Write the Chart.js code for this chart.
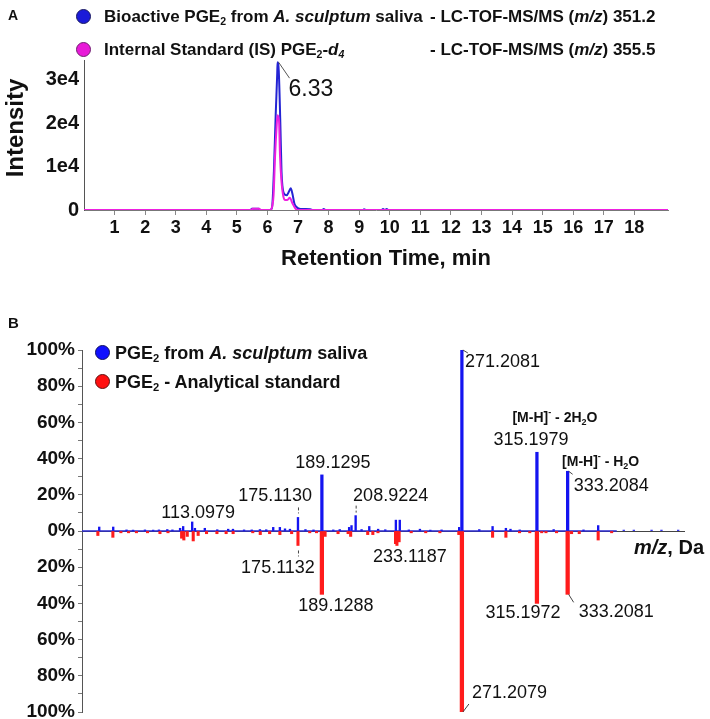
<!DOCTYPE html>
<html>
<head>
<meta charset="utf-8">
<script src="https://cdn.jsdelivr.net/npm/chart.js@4.4.1/dist/chart.umd.min.js"></script>
<style>
body { margin: 0; background: #fff; }
#page { position: relative; width: 710px; height: 719px; overflow: hidden; font-family: "Liberation Sans", Arial, sans-serif; color: #111; }
.t { position: absolute; white-space: nowrap; line-height: 1; transform: translateY(-50%); }
.b { font-weight: bold; }
sub { font-size: 0.62em; vertical-align: -0.3em; line-height: 0; }
.dot { position: absolute; border-radius: 50%; box-sizing: border-box; }
canvas { position: absolute; left: 0; }
</style>
</head>
<body>
<div id="page">
  <canvas id="chartA" width="710" height="290" style="top:0"></canvas>
  <canvas id="chartB" width="710" height="430" style="top:300px"></canvas>

  <div class="t b" style="left:8px;top:15px;font-size:14px">A</div>
  <div class="dot" style="left:76px;top:9px;width:15px;height:15px;background:#1a1ad8;border:1px solid #1a1a60"></div>
  <div class="dot" style="left:76px;top:42px;width:15px;height:15px;background:#e81ad8;border:1px solid #702070"></div>
  <div class="t b" style="left:104px;top:16px;font-size:17px">Bioactive PGE<sub>2</sub> from <i>A. sculptum</i> saliva</div>
  <div class="t b" style="left:430px;top:16px;font-size:17px">- LC-TOF-MS/MS (<i>m/z</i>) 351.2</div>
  <div class="t b" style="left:104px;top:49px;font-size:17px">Internal Standard (IS) PGE<sub>2</sub>-<i>d<sub>4</sub></i></div>
  <div class="t b" style="left:430px;top:49px;font-size:17px">- LC-TOF-MS/MS (<i>m/z</i>) 355.5</div>
  <div class="t b" style="left:15px;top:128px;font-size:24px;transform:translate(-50%,-50%) rotate(-90deg)">Intensity</div>
  <div class="t b" style="left:386px;top:258px;font-size:22px;transform:translate(-50%,-50%)">Retention Time, min</div>

  <div class="t b" style="left:8px;top:322px;font-size:15px">B</div>
  <div class="dot" style="left:95px;top:345px;width:15px;height:15px;background:#1010ff;border:1px solid #101060"></div>
  <div class="dot" style="left:95px;top:374px;width:15px;height:15px;background:#ff1010;border:1px solid #601010"></div>
  <div class="t b" style="left:115px;top:353px;font-size:18px">PGE<sub>2</sub> from <i>A. sculptum</i> saliva</div>
  <div class="t b" style="left:115px;top:382px;font-size:18px">PGE<sub>2</sub> - Analytical standard</div>
  <div class="t b" style="left:634px;top:547px;font-size:20px"><i>m/z</i>, Da</div>
</div>

<script>
// ---- panel A: chromatogram (retention time in min, intensity in counts)
var blueTime = [0, 5.45, 5.49, 5.72, 5.76, 6.08, 6.15, 6.21, 6.27, 6.32, 6.33, 6.37, 6.42, 6.46, 6.49, 6.54, 6.63, 6.70, 6.76, 6.82, 6.88, 6.95, 7.08, 7.40, 7.48, 7.80, 7.84, 7.90, 9.12, 9.16, 9.22, 9.74, 9.78, 9.84, 9.90, 9.95, 19.1];
var blueIntensity = [0, 0, 300, 300, 0, 0, 600, 8800, 22000, 31500, 34000, 32000, 20300, 8800, 5500, 3800, 3400, 4200, 5000, 3600, 1500, 700, 250, 200, 0, 0, 250, 0, 0, 200, 0, 0, 250, 0, 250, 0, 0];
var pinkTime = [0, 5.48, 5.51, 5.73, 5.77, 6.11, 6.16, 6.20, 6.25, 6.30, 6.33, 6.38, 6.41, 6.46, 6.52, 6.58, 6.65, 6.73, 6.82, 6.90, 6.98, 19.1];
var pinkIntensity = [0, 0, 300, 300, 0, 0, 1000, 3400, 12600, 19200, 21800, 20300, 12600, 6500, 3100, 2300, 2300, 2800, 1500, 500, 0, 0];
var yTickValuesA = [0, 10000, 20000, 30000];
var yTickLabelsA = ["0", "1e4", "2e4", "3e4"];
var xTickValuesA = [1, 2, 3, 4, 5, 6, 7, 8, 9, 10, 11, 12, 13, 14, 15, 16, 17, 18];
var apexLabelA = { time: 6.33, intensity: 34000, text: "6.33" };

// ---- panel B: mirror MS/MS spectrum (m/z, relative intensity %)
var blueMz = [58.6, 66.8, 74.6, 78.4, 85.4, 90.2, 93.6, 98.5, 101.5, 106.0, 107.8, 113.0979, 114.7, 120.5, 127.8, 134.2, 137.0, 143.5, 148.0, 152.8, 156.5, 160.6, 164.5, 167.5, 170.4, 175.1130, 179.5, 184.2, 189.1295, 195.8, 199.6, 205.1, 206.5, 208.9224, 212.4, 216.9, 222.1, 226.3, 232.5, 234.8, 240.1, 246.6, 252.7, 259.3, 269.6, 271.2081, 281.4, 289.2, 297.0, 299.7, 305.1, 315.1979, 325.0, 333.2084, 342.5, 351.1, 366.1, 372.0, 382.4, 388.2, 398.0];
var blueInt = [2.2, 2.2, 0.6, 0.5, 0.6, 0.5, 0.6, 0.8, 0.6, 1.5, 2.5, 5, 1.5, 1.5, 0.7, 1, 1, 0.6, 0.6, 0.8, 0.7, 2, 2, 1.2, 1, 7.5, 0.8, 0.6, 31, 0.6, 0.8, 2, 3, 8.5, 0.8, 2.5, 1, 0.7, 6, 6, 0.6, 1, 0.5, 0.6, 2, 100, 0.8, 2.5, 1.5, 1, 0.6, 43.5, 0.8, 33, 0.6, 3, 0.5, 0.5, 0.5, 0.5, 0.5];
var redMz = [57.8, 66.6, 71.3, 75.8, 80.4, 86.9, 94.2, 98.9, 106.9, 108.2, 110.2, 113.7, 116.6, 121.5, 127.6, 133.0, 137.1, 148.6, 153.0, 158.5, 164.5, 171.4, 175.1132, 182.0, 186.0, 189.1288, 191.0, 198.6, 204.5, 206.0, 216.0, 219.0, 222.0, 232.3, 233.1187, 234.4, 241.5, 250.0, 258.3, 269.4, 271.2079, 289.2, 297.0, 305.0, 311.0, 315.1972, 318.0, 320.5, 326.7, 333.2081, 335.5, 340.0, 351.1, 359.0];
var redInt = [-2.5, -3.5, -1, -1, -1, -1, -1.5, -1, -4, -5, -3, -5.5, -2.5, -1.5, -1.5, -1.5, -1.5, -1, -2, -1.5, -2, -1.5, -8, -1, -1, -35, -3, -1.5, -1.5, -3, -2, -2, -1, -7, -8, -6, -1, -1, -1, -2, -100, -3.5, -3.5, -1, -1, -40, -1, -1, -1, -35, -1.5, -1.5, -5, -1];
var blueBaseMz = [48.5, 362];
var blueLabelMz = [113.0979, 175.1130, 189.1295, 208.9224, 271.2081, 315.1979, 333.2084];
var redLabelMz = [175.1132, 189.1288, 233.1187, 271.2079, 315.1972, 333.2081];
var ionLabels = [
    { mz: 315.1979, runs: [{ t: "[M-H]" }, { t: "-", sup: true }, { t: " - 2H" }, { t: "2", sub: true }, { t: "O" }] },
    { mz: 333.2084, runs: [{ t: "[M-H]" }, { t: "-", sup: true }, { t: " - H" }, { t: "2", sub: true }, { t: "O" }] }
];
var yTickValuesB = [-100, -90, -80, -70, -60, -50, -40, -30, -20, -10, 0, 10, 20, 30, 40, 50, 60, 70, 80, 90, 100];
var yTickLabelsB = ["100%", "", "80%", "", "60%", "", "40%", "", "20%", "", "0%", "", "20%", "", "40%", "", "60%", "", "80%", "", "100%"];

var FONT = '"Liberation Sans", Arial, sans-serif';

function pairs(xs, ys, keep){
    var out = [];
    xs.forEach(function(x, i){
        if (!keep || keep(ys[i])) out.push({ x: x, y: ys[i] });
    });
    return out;
}

function lookup(xs, ys, x){
    return ys[xs.indexOf(x)];
}

function fixedTicks(values){
    return function(s){ s.ticks = values.map(function(v){ return { value: v }; }); };
}

function major(v){ return Math.abs(v) >= 20; }
function minor(v){ return Math.abs(v) < 20; }

// label placement relative to the bar end (dx, dy in px)
var labelLayout = {
    "113.0979": { dx: 6, dy: -9, align: "center" },
    "175.1130": { dx: 14, dy: -21, align: "right", dash: [-10, -4] },
    "189.1295": { dx: 11, dy: -12, align: "center" },
    "208.9224": { dx: 35, dy: -20, align: "center", dash: [-10, -3] },
    "271.2081": { dx: 3, dy: 12, align: "left", tick: [6, 3] },
    "315.1979": { dx: -6, dy: -12, align: "center" },
    "333.2084": { dx: 6, dy: 15, align: "left", tick: [5, 3] },
    "175.1132": { dx: -20, dy: 23, align: "center", dash: [5, 11] },
    "189.1288": { dx: 14, dy: 12, align: "center" },
    "233.1187": { dx: 13, dy: 12, align: "center" },
    "271.2079": { dx: 10, dy: -19, align: "left", tick: [7, -8] },
    "315.1972": { dx: -14, dy: 10, align: "center" },
    "333.2081": { dx: 11, dy: 18, align: "left", tick: [6, 8] }
};
var ionLayout = [ { dx: 18, dy: -34 }, { dx: 33, dy: -9 } ];

function drawRich(ctx, runs, x, y, size){
    var w = 0;
    runs.forEach(function(r){
        ctx.font = "bold " + (r.sub || r.sup ? Math.round(size * 0.65) : size) + "px " + FONT;
        r.w = ctx.measureText(r.t).width;
        w += r.w;
    });
    var cx = x - w / 2;
    runs.forEach(function(r){
        ctx.font = "bold " + (r.sub || r.sup ? Math.round(size * 0.65) : size) + "px " + FONT;
        var dy = r.sub ? size * 0.3 : (r.sup ? -size * 0.4 : 0);
        ctx.fillText(r.t, cx, y + dy);
        cx += r.w;
    });
}

var apexPlugin = {
    id: "apex",
    afterDatasetsDraw: function(chart){
        var ctx = chart.ctx;
        var px = chart.scales.x.getPixelForValue(apexLabelA.time);
        var py = chart.scales.y.getPixelForValue(apexLabelA.intensity);
        ctx.save();
        ctx.strokeStyle = "#555";
        ctx.lineWidth = 1;
        ctx.beginPath();
        ctx.moveTo(px + 1, py);
        ctx.lineTo(px + 12, py + 16);
        ctx.stroke();
        ctx.fillStyle = "#111";
        ctx.font = "23px " + FONT;
        ctx.textBaseline = "middle";
        ctx.fillText(apexLabelA.text, px + 11, py + 27);
        ctx.restore();
    }
};

var peakPlugin = {
    id: "peaks",
    afterDatasetsDraw: function(chart){
        var ctx = chart.ctx;
        var xs = chart.scales.x, ys = chart.scales.y;
        ctx.save();
        ctx.fillStyle = "#111";
        ctx.textBaseline = "middle";
        var all = blueLabelMz.map(function(m){ return { mz: m, v: lookup(blueMz, blueInt, m) }; })
            .concat(redLabelMz.map(function(m){ return { mz: m, v: lookup(redMz, redInt, m) }; }));
        all.forEach(function(p){
            var text = p.mz.toFixed(4);
            var lay = labelLayout[text];
            var px = xs.getPixelForValue(p.mz), py = ys.getPixelForValue(p.v);
            ctx.font = "18px " + FONT;
            ctx.textAlign = lay.align;
            ctx.fillText(text, px + lay.dx, py + lay.dy);
            ctx.strokeStyle = "#444";
            ctx.lineWidth = 1;
            if (lay.dash){
                ctx.setLineDash([3, 2]);
                ctx.beginPath();
                ctx.moveTo(px + 0.5, py + lay.dash[0]);
                ctx.lineTo(px + 0.5, py + lay.dash[1]);
                ctx.stroke();
                ctx.setLineDash([]);
            }
            if (lay.tick){
                ctx.beginPath();
                ctx.moveTo(px + 1, py);
                ctx.lineTo(px + lay.tick[0], py + lay.tick[1]);
                ctx.stroke();
            }
        });
        ctx.textAlign = "left";
        ionLabels.forEach(function(ion, i){
            var px = xs.getPixelForValue(ion.mz);
            var py = ys.getPixelForValue(lookup(blueMz, blueInt, ion.mz));
            drawRich(ctx, ion.runs, px + ionLayout[i].dx, py + ionLayout[i].dy, 14);
        });
        ctx.restore();
    }
};

document.addEventListener("DOMContentLoaded", function(){
    Chart.defaults.font.family = FONT;
    Chart.defaults.color = "#111";

    new Chart(document.getElementById("chartA").getContext("2d"), {
        type: "line",
        data: {
            datasets: [{
                label: "Bioactive PGE2",
                data: pairs(blueTime, blueIntensity),
                borderColor: "#2424d4",
                borderWidth: 2,
                pointRadius: 0,
                cubicInterpolationMode: "monotone",
                order: 1
            }, {
                label: "Internal Standard PGE2-d4",
                data: pairs(pinkTime, pinkIntensity),
                borderColor: "#ee20e0",
                borderWidth: 2,
                pointRadius: 0,
                cubicInterpolationMode: "monotone",
                order: 0
            }]
        },
        options: {
            responsive: false,
            animation: false,
            layout: { padding: { left: 0, right: 42, top: 60, bottom: 0 } },
            plugins: { legend: { display: false }, tooltip: { enabled: false } },
            scales: {
                x: {
                    type: "linear", min: 0, max: 19.1,
                    afterBuildTicks: fixedTicks(xTickValuesA),
                    afterFit: function(s){ s.height = 80; },
                    ticks: {
                        autoSkip: false, maxRotation: 0, padding: 2,
                        font: { size: 18, weight: "bold" },
                        callback: function(v){ return String(v); }
                    },
                    grid: { drawOnChartArea: false, tickLength: 5, color: "#888" },
                    border: { color: "#777" }
                },
                y: {
                    min: 0, max: 34500,
                    afterBuildTicks: fixedTicks(yTickValuesA),
                    afterFit: function(s){ s.width = 84; },
                    ticks: {
                        autoSkip: false, padding: 5,
                        font: { size: 20, weight: "bold" },
                        callback: function(v){ return yTickLabelsA[yTickValuesA.indexOf(v)]; }
                    },
                    grid: { drawOnChartArea: false, drawTicks: false },
                    border: { color: "#555" }
                }
            }
        },
        plugins: [apexPlugin]
    });

    new Chart(document.getElementById("chartB").getContext("2d"), {
        type: "bar",
        data: {
            datasets: [{
                label: "PGE2 from A. sculptum saliva",
                data: pairs(blueMz, blueInt, major),
                backgroundColor: "#1414f0",
                barThickness: 2.6,
                grouped: false,
                order: 0
            }, {
                label: "PGE2 from A. sculptum saliva (minor)",
                data: pairs(blueMz, blueInt, minor),
                backgroundColor: "#1414f0",
                barThickness: 1.7,
                grouped: false,
                order: 1
            }, {
                label: "PGE2 - Analytical standard",
                data: pairs(redMz, redInt, major),
                backgroundColor: "#ff1c1c",
                barThickness: 3.6,
                grouped: false,
                order: 2
            }, {
                label: "PGE2 - Analytical standard (minor)",
                data: pairs(redMz, redInt, minor),
                backgroundColor: "#ff1c1c",
                barThickness: 2.4,
                grouped: false,
                order: 3
            }, {
                type: "line",
                label: "baseline",
                data: blueBaseMz.map(function(m){ return { x: m, y: 0 }; }),
                borderColor: "#2a2ad0",
                borderWidth: 1.5,
                pointRadius: 0,
                order: 4
            }]
        },
        options: {
            responsive: false,
            animation: false,
            layout: { padding: { left: 0, right: 25, top: 50, bottom: 18 } },
            plugins: { legend: { display: false }, tooltip: { enabled: false } },
            scales: {
                x: { type: "linear", min: 48.5, max: 402, offset: false, display: false },
                y: {
                    min: -100, max: 100,
                    afterBuildTicks: fixedTicks(yTickValuesB),
                    afterFit: function(s){ s.width = 82; },
                    ticks: {
                        padding: 3, autoSkip: false,
                        font: { size: 19, weight: "bold" },
                        callback: function(v){ return yTickLabelsB[yTickValuesB.indexOf(v)]; }
                    },
                    grid: {
                        tickLength: 4, tickColor: "#777",
                        color: function(c){ return c.tick && c.tick.value === 0 ? "#444" : "rgba(0,0,0,0)"; }
                    },
                    border: { color: "#555" }
                }
            }
        },
        plugins: [peakPlugin]
    });
});
</script>
</body>
</html>
